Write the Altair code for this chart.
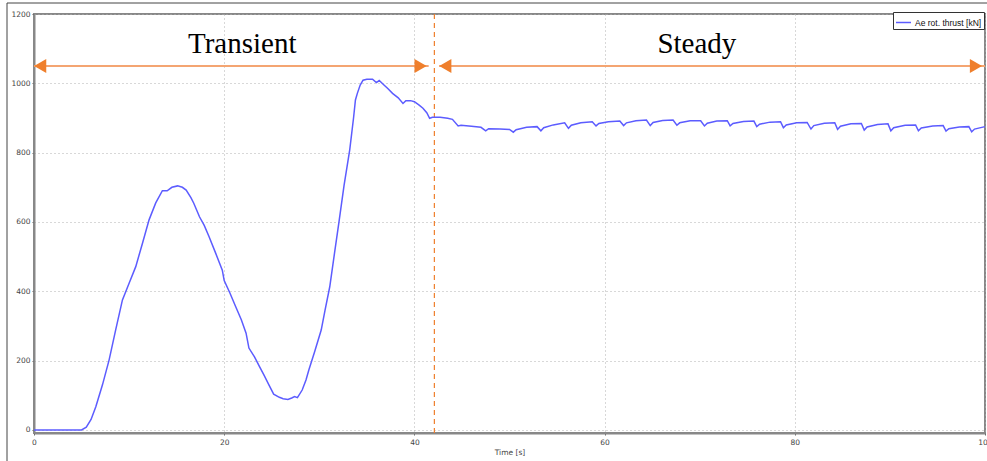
import altair as alt
import pandas as pd

# ---- data ----
time_s = [0, 5.0, 5.5, 6.0, 6.5, 7.2, 7.9, 8.6, 9.3, 10.0, 10.7, 11.4, 12.1, 12.8, 13.5,
          14.0, 14.5, 15.1, 15.6, 16.0, 16.5, 16.8, 17.4, 17.9, 18.4, 19.1, 19.8, 20.0,
          20.6, 21.2, 21.8, 22.3, 22.6, 23.2, 23.7, 24.2, 24.7, 25.2, 25.8, 26.2, 26.7,
          27.1, 27.4, 27.7, 28.2, 28.6, 28.9, 29.5, 30.2, 30.6, 31.1, 31.6, 32.1, 32.6,
          33.2, 33.6, 33.8, 34.0, 34.3, 34.6, 35.0, 35.6, 36.0, 36.3, 36.8, 37.2, 37.7,
          38.3, 38.8, 39.1, 39.6, 40.0, 40.5, 40.9, 41.3, 41.6, 41.9, 42.7, 43.5, 44.0,
          44.6, 44.9, 46.0, 47.0, 47.5, 47.8, 49.0, 50.0, 50.4, 50.7, 51.8, 52.9,
          53.3, 53.6, 54.6, 55.8, 56.2, 56.5, 57.5, 58.7, 59.1, 59.4, 60.4, 61.6,
          62.0, 62.3, 63.3, 64.4, 64.8, 65.1, 66.1, 67.2, 67.6, 67.9, 69.0, 70.1,
          70.5, 70.8, 71.8, 72.9, 73.2, 73.5, 74.6, 75.7, 76.0, 76.3, 77.4, 78.5,
          78.8, 79.1, 80.2, 81.3, 81.7, 82.0, 83.1, 84.2, 84.5, 84.8, 85.9, 87.0,
          87.3, 87.6, 88.7, 89.8, 90.1, 90.4, 91.6, 92.7, 93.0, 93.3, 94.5, 95.6,
          95.9, 96.2, 97.3, 98.3, 98.6, 98.9, 100.0]
thrust_kn = [0, 0, 8, 30, 67, 130, 202, 290, 375, 423, 471, 538, 606, 655, 690,
             690, 700, 704, 700, 692, 670, 654, 615, 590, 558, 510, 461, 431,
             395, 356, 318, 279, 236, 210, 183, 157, 130, 103, 94, 90, 88,
             92, 96, 93, 115, 144, 173, 225, 288, 345, 413, 510, 606, 705,
             808, 900, 952, 971, 995, 1009, 1012, 1012, 1002, 1008, 995, 985, 971,
             958, 942, 950, 950, 947, 937, 928, 915, 899, 902, 902, 899, 896,
             877, 879, 876, 873, 863, 869, 868, 867, 859, 866, 873, 875,
             863, 872, 880, 886, 870, 879, 886, 889, 877, 884, 889, 891,
             878, 886, 892, 894, 878, 887, 893, 894, 879, 886, 892, 892,
             877, 885, 891, 892, 877, 884, 890, 891, 875, 882, 888, 889,
             872, 880, 886, 887, 868, 878, 885, 886, 867, 876, 883, 884,
             865, 874, 881, 883, 863, 872, 879, 880, 863, 871, 877, 878,
             862, 869, 874, 875, 860, 868, 875]
series_name = "Ae rot. thrust [kN]"

phase_labels = ["Transient", "Steady"]
phase_label_x = [21.9, 69.7]
label_y = 1088

arrow_start = [0.0, 42.6]
arrow_end = [41.5, 100.0]
arrow_y = 1050
head_x = [0.65, 40.65, 43.25, 99.05]
head_shape = ["triangle-left", "triangle-right", "triangle-left", "triangle-right"]

split_time = [42.1]

x_ticks = [0, 20, 40, 60, 80, 100]
y_ticks = [0, 200, 400, 600, 800, 1000, 1200]

# ---- tables ----
df_line = pd.DataFrame({"t": time_s, "v": thrust_kn, "s": [series_name] * len(time_s)})
df_lab = pd.DataFrame({"t": phase_label_x, "v": [label_y] * 2, "txt": phase_labels})
df_arr = pd.DataFrame({"t": arrow_start, "t2": arrow_end, "v": [arrow_y] * 2})
df_head = pd.DataFrame({"t": head_x, "v": [arrow_y] * 4, "shape": head_shape})
df_split = pd.DataFrame({"t": split_time})

xs = alt.Scale(domain=[0, 100], nice=False, zero=False)
ys = alt.Scale(domain=[-9, 1200], nice=False, zero=False)

grid_axis = dict(grid=True, gridColor="#b0b0b0", gridDash=[1, 3], gridWidth=1,
                 domainColor="#888888", domainWidth=2, tickColor="#666666", tickSize=2,
                 labelFont="DejaVu Sans", labelFontSize=7.5, labelColor="#444444",
                 labelFlush=False, labelOverlap=False)

x_enc = alt.X("t:Q", scale=xs,
              axis=alt.Axis(values=x_ticks, title="Time [s]", titleFont="DejaVu Sans",
                            titleFontSize=7.5, titleFontWeight="normal", titleColor="#444444",
                            titlePadding=3, labelPadding=3, format="d", **grid_axis))
y_enc = alt.Y("v:Q", scale=ys,
              axis=alt.Axis(values=y_ticks, title=None, labelPadding=2, format="d", **grid_axis))

line = alt.Chart(df_line).mark_line(strokeWidth=1.5).encode(
    x=x_enc, y=y_enc,
    color=alt.Color("s:N", scale=alt.Scale(range=["#5c5cff"]),
                    legend=alt.Legend(orient="none", legendX=859, legendY=-2, title=None,
                                      strokeColor="#333333", fillColor="white", padding=2,
                                      labelFont="Liberation Sans", labelFontSize=8.5,
                                      labelColor="#111111", symbolType="stroke",
                                      symbolSize=225, symbolStrokeWidth=1.5,
                                      labelOffset=3, cornerRadius=0))
)

arrows = alt.Chart(df_arr).mark_rule(color="#f4a572", strokeWidth=2).encode(
    x=alt.X("t:Q", scale=xs), x2="t2:Q", y=alt.Y("v:Q", scale=ys))

heads = alt.Chart(df_head).mark_point(filled=True, size=196, color="#ef7f2c", opacity=1).encode(
    x=alt.X("t:Q", scale=xs), y=alt.Y("v:Q", scale=ys),
    shape=alt.Shape("shape:N", scale=None, legend=None))

texts = alt.Chart(df_lab).mark_text(font="Liberation Serif", fontSize=29, color="black",
                                    baseline="alphabetic", align="center").encode(
    x=alt.X("t:Q", scale=xs), y=alt.Y("v:Q", scale=ys), text="txt:N")

split = alt.Chart(df_split).mark_rule(color="#ef7f2c", strokeDash=[5, 4], strokeWidth=1.2).encode(
    x=alt.X("t:Q", scale=xs))

frame_left = alt.Chart(df_split).mark_rule(color="#444444", strokeWidth=1).encode(
    x=alt.value(-27), y=alt.value(-11), y2=alt.value(460))
frame_top = alt.Chart(df_split).mark_rule(color="#444444", strokeWidth=1).encode(
    x=alt.value(-27), x2=alt.value(960), y=alt.value(-11))

chart = alt.layer(split, arrows, heads, texts, line, frame_left, frame_top).properties(
    width=951, height=419,
    autosize=alt.AutoSizeParams(type="none"),
    padding={"left": 34, "top": 14, "right": 2, "bottom": 28},
    background="white",
).configure_view(stroke="#888888", strokeWidth=2)

chart.save("out.html", embed_options={"renderer": "svg", "actions": False})
